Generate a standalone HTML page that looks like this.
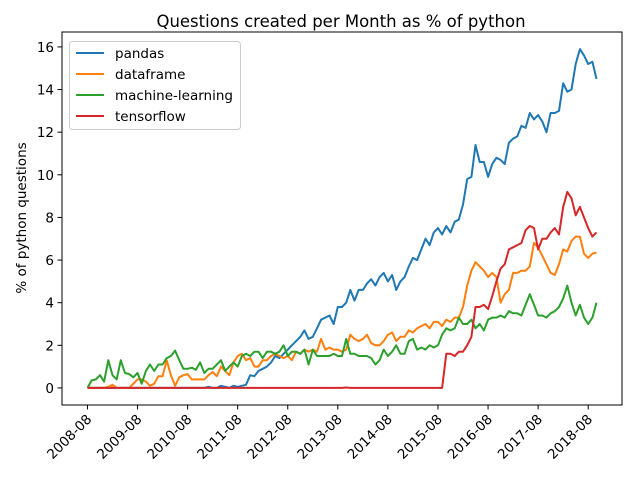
<!DOCTYPE html>
<html><head><meta charset="utf-8"><style>
body{margin:0;background:#fff;font-family:"Liberation Sans","DejaVu Sans",sans-serif}
svg text{font-family:"DejaVu Sans","Liberation Sans",sans-serif}
</style></head><body>
<svg id="chart" width="640" height="480" viewBox="0 0 640 480">
<rect x="0" y="0" width="640" height="480" fill="#fff"/>
<text x="341" y="27" font-size="16.5" text-anchor="middle">Questions created per Month as % of python</text>
<text transform="translate(26,218) rotate(-90)" font-size="13.5" text-anchor="middle">% of python questions</text>
<g id="plot"></g>
</svg>
<script>
const tickLabels=["2008-08","2009-08","2010-08","2011-08","2012-08","2013-08","2014-08","2015-08","2016-08","2017-08","2018-08"];
const yTicks=[0,2,4,6,8,10,12,14,16];
const seriesNames=["pandas","dataframe","machine-learning","tensorflow"];
const pandas=[0,0,0,0,0,0,0,0,0,0,0,0,0,0,0,0,0,0,0,0,0,0,0,0,0,0,0,0,0,0.05,0,0,0.1,0.05,0,0.1,0.05,0.1,0.15,0.6,0.55,0.8,0.9,1.0,1.2,1.5,1.4,1.6,1.8,2.0,2.2,2.4,2.7,2.3,2.4,2.8,3.2,3.3,3.4,3.0,3.8,3.8,4.0,4.6,4.1,4.6,4.6,4.9,5.1,4.8,5.2,5.4,5.0,5.3,4.6,5.0,5.2,5.7,6.1,6.0,6.5,7.0,6.7,7.3,7.5,7.2,7.6,7.3,7.8,7.9,8.6,9.8,9.9,11.4,10.6,10.6,9.9,10.5,10.8,10.7,10.5,11.5,11.7,11.8,12.3,12.2,12.9,12.6,12.8,12.5,12.0,12.9,12.9,13.0,14.3,13.9,14.0,15.2,15.9,15.6,15.2,15.3,14.5];
const dataframe=[0,0,0,0,0,0.05,0.15,0,0,0,0,0.2,0.4,0.4,0.3,0.1,0.2,0.55,0.55,1.3,0.6,0.1,0.5,0.6,0.65,0.4,0.4,0.4,0.4,0.6,0.75,0.55,1.0,0.8,0.6,1.2,1.5,1.6,1.3,1.4,1.0,1.0,1.3,1.3,1.5,1.6,1.5,1.4,1.5,1.3,1.7,1.6,1.8,1.7,1.8,1.7,2.3,1.8,1.9,1.8,1.8,1.7,1.8,2.5,2.3,2.2,2.3,2.5,2.1,2.0,2.0,2.2,2.5,2.6,2.2,2.4,2.4,2.7,2.6,2.8,2.9,3.0,2.8,3.1,3.1,2.9,3.2,3.1,3.3,3.3,3.8,4.8,5.5,5.9,5.7,5.5,5.2,5.4,5.2,4.0,4.4,4.6,5.4,5.4,5.5,5.5,5.7,6.8,6.6,6.2,5.8,5.4,5.3,5.8,6.5,6.4,6.9,7.1,7.1,6.3,6.1,6.3,6.35];
const ml=[0,0.35,0.4,0.6,0.3,1.3,0.6,0.4,1.3,0.7,0.65,0.5,0.7,0.2,0.8,1.1,0.8,1.1,1.1,1.4,1.5,1.75,1.3,0.9,0.9,0.95,0.85,1.2,0.7,0.9,0.9,1.1,1.3,0.8,1.0,1.2,1.0,1.5,1.6,1.5,1.7,1.7,1.4,1.7,1.7,1.6,1.7,2.0,1.5,1.7,1.7,1.6,1.8,1.1,1.8,1.5,1.5,1.5,1.5,1.6,1.5,1.5,2.3,1.6,1.6,1.5,1.5,1.5,1.4,1.1,1.3,1.8,1.5,1.7,2.0,1.6,1.6,2.2,2.3,1.8,1.9,1.8,2.0,1.9,2.0,2.5,2.8,2.7,2.8,3.3,3.0,3.0,3.2,2.8,3.0,2.7,3.2,3.3,3.3,3.4,3.3,3.6,3.5,3.5,3.4,3.9,4.4,3.9,3.4,3.4,3.3,3.5,3.6,3.8,4.2,4.8,4.0,3.4,3.9,3.3,3.0,3.3,4.0];
const tensorflow=[0,0,0,0,0,0,0,0,0,0,0,0,0,0,0,0,0,0,0,0,0,0,0,0,0,0,0,0,0,0,0,0,0,0,0,0,0,0,0,0,0,0,0,0,0,0,0,0,0,0,0,0,0,0,0,0,0,0,0,0,0,0,0.02,0,0,0,0,0,0,0,0,0,0,0,0,0,0,0,0,0,0,0,0,0,0,0,1.6,1.6,1.5,1.7,1.7,2.0,2.4,3.8,3.8,3.9,3.7,4.3,5.0,5.6,5.8,6.5,6.6,6.7,6.8,7.4,7.6,7.5,6.5,7.0,7.0,7.3,7.5,7.2,8.5,9.2,8.9,8.1,8.5,8.0,7.5,7.1,7.3];
const colors=["#1f77b4","#ff7f0e","#2ca02c","#d62728"];
const NS="http://www.w3.org/2000/svg";
const L=62,R=622,T=32,B=405;
const n=pandas.length-1;
const xmin=-0.05*n,xmax=n*1.05;
const ymin=-0.8,ymax=16.7;
const X=i=>L+(i-xmin)/(xmax-xmin)*(R-L);
const Y=v=>B-(v-ymin)/(ymax-ymin)*(B-T);
const g=document.getElementById('plot');
function mk(t,a){const e=document.createElementNS(NS,t);for(const k in a)e.setAttribute(k,a[k]);g.appendChild(e);return e;}
const all=[pandas,dataframe,ml,tensorflow];
all.forEach((s,k)=>{
  const p=mk('polyline',{points:s.map((v,i)=>X(i).toFixed(1)+','+Y(v).toFixed(1)).join(' '),fill:'none',stroke:colors[k],'stroke-width':2,'stroke-linejoin':'round'});
  
  
});
const frame=mk('rect',{x:L,y:T,width:R-L,height:B-T,fill:'none',stroke:'#000','stroke-width':1});


yTicks.forEach(v=>{
  const y=Y(v);
  mk('line',{x1:L-4.5,x2:L,y1:y,y2:y,stroke:'#000','stroke-width':1});
  const t=mk('text',{x:L-8,y:y+5,'font-size':13.5,'text-anchor':'end'});
  t.textContent=v;
  
  
});
tickLabels.forEach((lab,j)=>{
  const x=X(j*12);
  mk('line',{x1:x,x2:x,y1:B,y2:B+4.5,stroke:'#000','stroke-width':1});
  const t=mk('text',{x:x+5,y:B+15,'font-size':13.5,'text-anchor':'end',transform:`rotate(-45 ${x+5} ${B+15})`});
  t.textContent=lab;
  
  
});
const lg=mk('rect',{x:69.5,y:41.5,width:171,height:88,rx:3,fill:'#fff','fill-opacity':0.8,stroke:'#ccc'});


seriesNames.forEach((nm,k)=>{
  const y=53+k*21;
  mk('line',{x1:76,x2:104,y1:y,y2:y,stroke:colors[k],'stroke-width':2});
  const t=mk('text',{x:115,y:y+5,'font-size':13.5});
  t.textContent=nm;
  
  
});
</script>
</body></html>
